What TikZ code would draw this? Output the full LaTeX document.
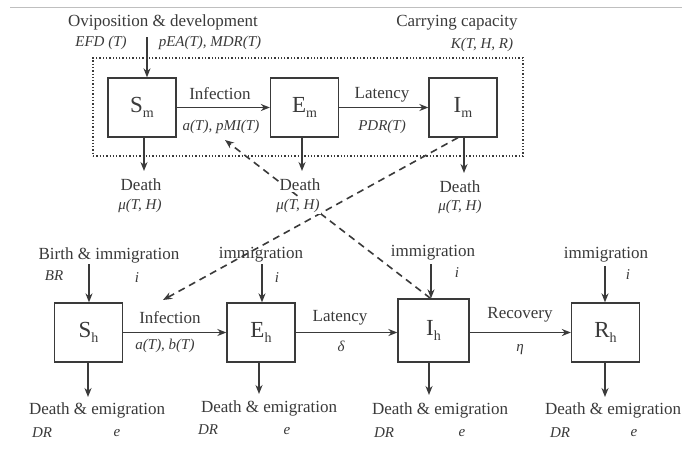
\documentclass[tikz,border=0pt]{standalone}
\usepackage{fontspec}
\setmainfont{Liberation Serif}
\usetikzlibrary{arrows.meta}
\definecolor{ink}{HTML}{3A3A3A}
\newcommand{\subl}[1]{\raisebox{-5pt}{\fontsize{14}{14}\selectfont #1}}
\tikzset{
  box/.style={draw=ink, line width=1.3pt, minimum width=68pt, minimum height=59pt, inner sep=0pt,
    text=ink, font=\fontsize{23}{25}\selectfont},
  arr/.style={-{Stealth[length=9pt,width=7pt]}, line width=1.6pt, draw=ink},
  darr/.style={-{Stealth[length=9pt,width=7pt]}, line width=1.6pt, draw=ink, dash pattern=on 7pt off 5pt},
  lbl/.style={inner sep=0pt, text=ink, font=\fontsize{17}{19}\selectfont},
  var/.style={inner sep=0pt, text=ink, font=\fontsize{15}{17}\selectfont\itshape},
  mask/.style={fill=white, inner sep=1pt},
}
\begin{document}
\begin{tikzpicture}[x=1pt,y=-1pt]
\useasboundingbox (0,0) rectangle (682,448);
\fill[white] (0,0) rectangle (682,448);
\draw[black!25, line width=1pt] (10,7) -- (682,7);

% mosquito compartment frame
\node[draw=ink, dotted, line width=1.3pt, minimum width=430pt, minimum height=98pt, inner sep=0pt] (frame) at (308,107) {};

% boxes
\node[box] (Sm) at (142,107.5) {S\subl{m}};
\node[box] (Em) at (304.5,107.5) {E\subl{m}};
\node[box] (Im) at (463,107.5) {I\subl{m}};
\node[box] (Sh) at (88.5,332.5) {S\subl{h}};
\node[box] (Eh) at (261,332.5) {E\subl{h}};
\node[box, minimum width=71pt, minimum height=63pt] (Ih) at (433.5,330.5) {I\subl{h}};
\node[box] (Rh) at (605.5,332.5) {R\subl{h}};

% cross-infection (dashed), drawn beneath the labels
\coordinate (t1) at (163,300);
\coordinate (t2) at (225,140);
\draw[darr] ([xshift=-5pt]Im.south) -- (t1);
\draw[darr] ([xshift=-3pt]Ih.north) -- (t2);

% top labels
\node[lbl] (ovi) at (163,22) {Oviposition \& development};
\node[var] (efd) at (101,43) {EFD (T)};
\node[var] (pea) at (210,43) {pEA(T), MDR(T)};
\node[lbl] (cap) at (457,23) {Carrying capacity};
\node[var] (kth) at (482,45) {K(T, H, R)};
\coordinate (oviend) at (147,37);
\draw[arr] (oviend) -- (oviend |- Sm.north);

% mosquito transitions
\draw[arr] (Sm) -- (Em);
\node[lbl] (infm) at (220,94) {Infection};
\node[var] (infmv) at (221,127) {a(T), pMI(T)};
\draw[arr] (Em) -- (Im);
\node[lbl] (latm) at (382,95) {Latency};
\node[var] (latmv) at (382,127) {PDR(T)};

% mosquito deaths
\coordinate (dSm) at (144,171);
\coordinate (dEm) at (302,171);
\coordinate (dIm) at (464,173);
\draw[arr] (dSm |- Sm.south) -- (dSm);
\draw[arr] (dEm |- Em.south) -- (dEm);
\draw[arr] (dIm |- Im.south) -- (dIm);
\node[lbl] (deSm) at (141,185) {Death};
\node[var] (muSm) at (140,206) {μ(T, H)};
\node[lbl, mask] (deEm) at (300,185) {Death};
\node[var, mask] (muEm) at (298,206) {μ(T, H)};
\node[lbl] (deIm) at (460,187) {Death};
\node[var] (muIm) at (460,207) {μ(T, H)};

% human inflows
\node[lbl] (bim) at (109,255) {Birth \& immigration};
\node[var] (br) at (54,276) {BR};
\node[var] (i1) at (137,278) {i};
\node[lbl] (imE) at (261,255) {immigration};
\node[var] (i2) at (277,278) {i};
\node[lbl] (imI) at (433,253) {immigration};
\node[var] (i3) at (457,273) {i};
\node[lbl] (imR) at (606,255) {immigration};
\node[var] (i4) at (628,275) {i};
\coordinate (inS) at (89,264);
\coordinate (inE) at (262,264);
\coordinate (inI) at (431,264);
\coordinate (inR) at (605,266);
\draw[arr] (inS) -- (inS |- Sh.north);
\draw[arr] (inE) -- (inE |- Eh.north);
\draw[arr] (inI) -- (inI |- Ih.north);
\draw[arr] (inR) -- (inR |- Rh.north);

% human transitions
\draw[arr] (Sh) -- (Eh);
\node[lbl] (infh) at (170,318) {Infection};
\node[var] (infhv) at (165,346) {a(T), b(T)};
\draw[arr] (Eh.east) -- (Eh.east -| Ih.west);
\node[lbl] (lath) at (340,318) {Latency};
\node[var] (lathv) at (341,346) {δ};
\draw[arr] (Ih.east |- Rh) -- (Rh);
\node[lbl] (rec) at (520,315) {Recovery};
\node[var] (recv) at (520,350) {η};

% human deaths
\coordinate (dSh) at (88,397);
\coordinate (dEh) at (259,394);
\coordinate (dIh) at (429,395);
\coordinate (dRh) at (605,397);
\draw[arr] (dSh |- Sh.south) -- (dSh);
\draw[arr] (dEh |- Eh.south) -- (dEh);
\draw[arr] (dIh |- Ih.south) -- (dIh);
\draw[arr] (dRh |- Rh.south) -- (dRh);
\node[lbl] (deSh) at (97,410) {Death \& emigration};
\node[var] (drS) at (42,433) {DR};
\node[var] (eS) at (117,433) {e};
\node[lbl] (deEh) at (269,408) {Death \& emigration};
\node[var] (drE) at (208,430) {DR};
\node[var] (eE) at (287,431) {e};
\node[lbl] (deIh) at (440,410) {Death \& emigration};
\node[var] (drI) at (384,433) {DR};
\node[var] (eI) at (462,433) {e};
\node[lbl] (deRh) at (613,410) {Death \& emigration};
\node[var] (drR) at (560,433) {DR};
\node[var] (eR) at (634,433) {e};
\end{tikzpicture}
\end{document}
